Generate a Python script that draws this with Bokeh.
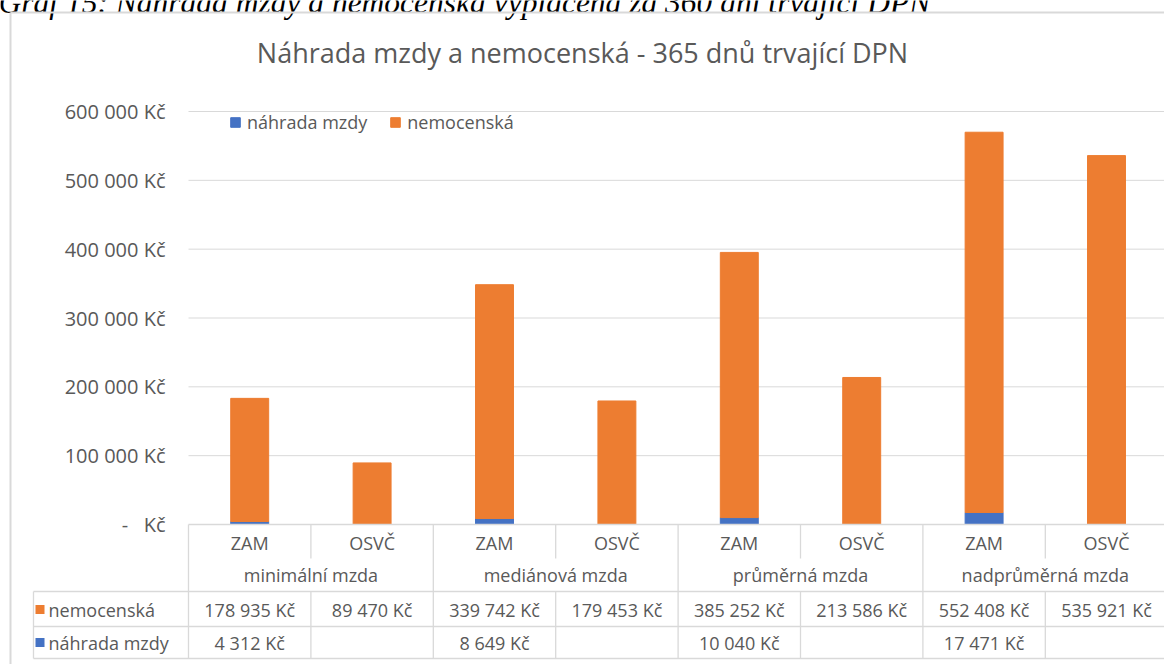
from bokeh.plotting import figure
from bokeh.models import Range1d, ColumnDataSource, Legend, LegendItem
from bokeh.core.properties import value
from bokeh.embed import file_html
from bokeh.resources import INLINE

# ---------------- data ----------------
title_text = "Náhrada mzdy a nemocenská - 365 dnů trvající DPN"
caption_text = "Graf 15: Náhrada mzdy a nemocenská vyplacená za 360 dní trvající DPN"
groups = ["minimální mzda", "mediánová mzda", "průměrná mzda", "nadprůměrná mzda"]
subcats = ["ZAM", "OSVČ", "ZAM", "OSVČ", "ZAM", "OSVČ", "ZAM", "OSVČ"]
nemocenska = [178935, 89470, 339742, 179453, 385252, 213586, 552408, 535921]
nahrada = [4312, 0, 8649, 0, 10040, 0, 17471, 0]
series_names = ["náhrada mzdy", "nemocenská"]
y_ticks = [0, 100000, 200000, 300000, 400000, 500000, 600000]
y_tick_labels = ["-\u00a0\u00a0\u00a0Kč", "100 000 Kč", "200 000 Kč", "300 000 Kč",
                 "400 000 Kč", "500 000 Kč", "600 000 Kč"]

# ---------------- style / geometry ----------------
BLUE = "#4472C4"
ORANGE = "#ED7D31"
TXT = "#595959"
GRID = "#d9d9d9"
FONT = value("Open Sans")

W, H = 1164, 664
PL, PT, PB = 188, 111, 524      # plot area left / top / bottom (px)
CELL = 122.4                    # width of one category cell (px)
YMAX = 600000


def X(px):
    return (px - PL) / CELL


def Y(py):
    return (PB - py) * YMAX / (PB - PT)


def kc(v):
    return "" if v == 0 else f"{v:,}".replace(",", " ") + " Kč"


n = len(subcats)
xs = [i + 0.5 for i in range(n)]
XR = X(W)

p = figure(width=W, height=H, output_backend="svg", toolbar_location=None,
           x_range=Range1d(X(0), XR), y_range=Range1d(Y(H), Y(0)),
           x_axis_type=None, y_axis_type=None, min_border=0)
p.outline_line_color = None
p.grid.visible = False
p.background_fill_color = "white"
p.border_fill_color = "white"

# caption (cut off at the top, as in the reference)
p.text(x=[X(-2)], y=[Y(2)], text=[caption_text], text_font=value("Liberation Serif"),
       text_font_style="italic", text_font_size="31.5px", text_color="black",
       text_baseline="alphabetic", text_align="left")

# outer chart border
p.segment(x0=[X(10), X(10)], y0=[Y(12), Y(12)], x1=[X(10), XR], y1=[Y(H), Y(12)],
          line_color=GRID, line_width=2)

# title
p.text(x=[X(582)], y=[Y(52)], text=[title_text], text_font=FONT,
       text_font_size="27px", text_color=TXT, text_align="center",
       text_baseline="middle")

# gridlines + y tick labels
p.segment(x0=[0] * len(y_ticks[1:]), y0=y_ticks[1:], x1=[XR] * len(y_ticks[1:]),
          y1=y_ticks[1:], line_color=GRID, line_width=1)
p.text(x=[X(165)] * len(y_ticks), y=y_ticks, text=y_tick_labels, text_font=FONT,
       text_font_size="20px", text_color=TXT, text_align="right",
       text_baseline="middle")

# bars
src = ColumnDataSource(dict(x=xs, nahrada=nahrada, nemocenska=nemocenska))
rs = p.vbar_stack(["nahrada", "nemocenska"], x="x", width=0.31,
                  color=[BLUE, ORANGE], source=src)

# legend
legend = Legend(items=[LegendItem(label=series_names[0], renderers=[rs[0]]),
                       LegendItem(label=series_names[1], renderers=[rs[1]])],
                location=(229, 530), orientation="horizontal",
                border_line_color=None, background_fill_alpha=0,
                padding=0, margin=0, spacing=22, glyph_width=12, glyph_height=12,
                label_standoff=6, label_height=20,
                label_text_font="Open Sans", label_text_font_size="18px",
                label_text_color=TXT)
p.add_layout(legend)

# ---------------- category axis + data table ----------------
R_SUB = 558
R_TOP, R_MID, R_BOT = 591, 626, 658
TL = 33
x0, y0, x1, y1 = [], [], [], []


def seg(a, b, c, d):
    x0.append(a); y0.append(b); x1.append(c); y1.append(d)


seg(0, 0, XR, 0)                                 # category axis line
for yy in (R_TOP, R_MID, R_BOT):
    seg(X(TL), Y(yy), XR, Y(yy))
seg(X(TL), Y(R_TOP), X(TL), Y(R_BOT))
for i in range(n + 1):
    if i % 2 == 0:
        seg(i, 0, i, Y(R_BOT))
    else:
        seg(i, 0, i, Y(R_SUB))
        seg(i, Y(R_TOP), i, Y(R_BOT))
p.segment(x0=x0, y0=y0, x1=x1, y1=y1, line_color=GRID, line_width=1.3)

# first level category labels
p.text(x=xs, y=[Y(542)] * n, text=subcats, text_font=FONT, text_font_size="18px",
       text_color=TXT, text_align="center", text_baseline="middle")
# group labels
p.text(x=[2 * i + 1 for i in range(len(groups))], y=[Y(574)] * len(groups),
       text=groups, text_font=FONT, text_font_size="18px", text_color=TXT,
       text_align="center", text_baseline="middle")

# table values
ROW1, ROW2 = 609, 642
p.text(x=xs, y=[Y(ROW1)] * n, text=[kc(v) for v in nemocenska], text_font=FONT,
       text_font_size="18px", text_color=TXT, text_align="center",
       text_baseline="middle")
p.text(x=xs, y=[Y(ROW2)] * n, text=[kc(v) for v in nahrada], text_font=FONT,
       text_font_size="18px", text_color=TXT, text_align="center",
       text_baseline="middle")

# table row keys
p.rect(x=[X(39.5), X(39.5)], y=[Y(ROW1), Y(ROW2)], width=9 / CELL,
       height=9 * YMAX / (PB - PT), fill_color=[ORANGE, BLUE], line_color=None)
p.text(x=[X(48), X(48)], y=[Y(ROW1), Y(ROW2)], text=[series_names[1], series_names[0]],
       text_font=FONT, text_font_size="18px", text_color=TXT, text_align="left",
       text_baseline="middle")

open("out.html", "w").write(file_html(p, INLINE))
